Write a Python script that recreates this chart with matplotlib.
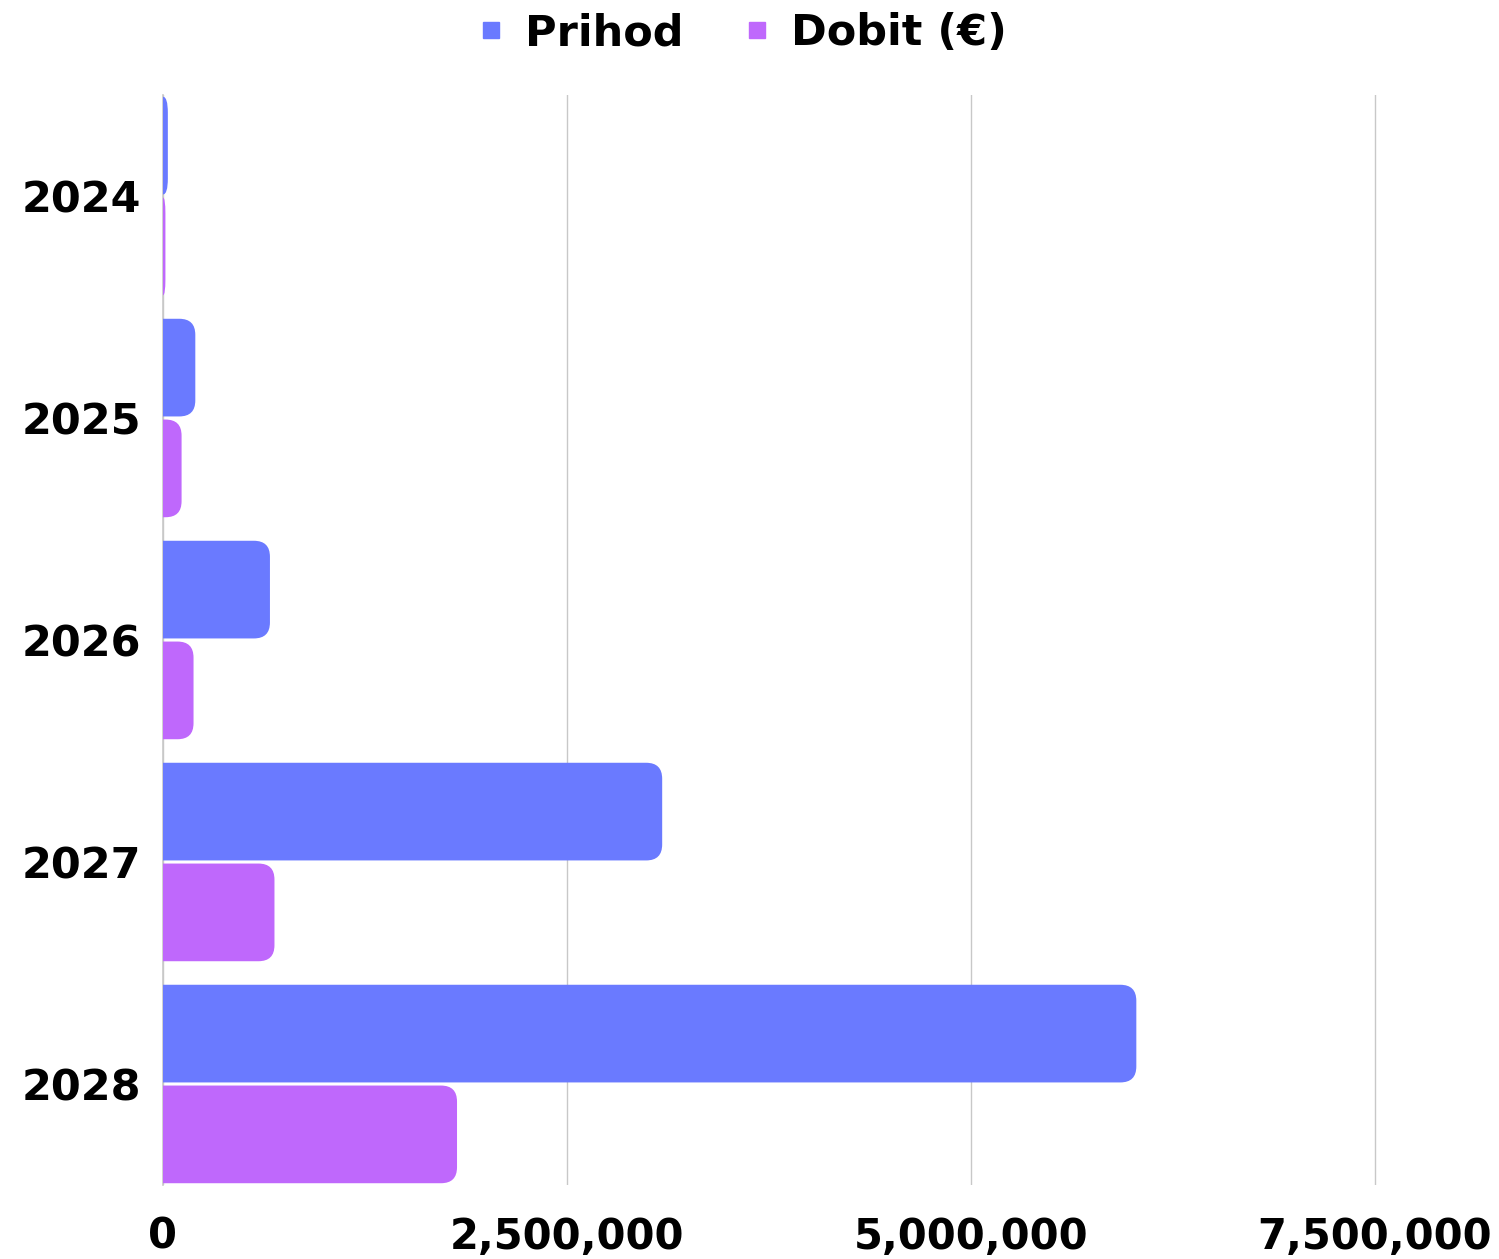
import numpy as np
import matplotlib
matplotlib.use("Agg")
import matplotlib.pyplot as plt
from matplotlib.path import Path
from matplotlib.patches import PathPatch
from matplotlib.lines import Line2D
from matplotlib.ticker import FuncFormatter

# data
years = ["2024", "2025", "2026", "2027", "2028"]
prihod = [30000, 200000, 662000, 3090000, 6025000]
dobit = [15000, 115000, 189000, 690000, 1820000]
series_names = ["Prihod", "Dobit (€)"]
colors = ["#6A7AFF", "#BF68FC"]

plt.rcParams["font.family"] = ["DejaVu Sans"]
plt.rcParams["font.weight"] = "bold"

W, H = 1499, 1259
fig = plt.figure(figsize=(W / 100, H / 100), dpi=100)
ax = fig.add_axes([163 / W, 1 - 1185 / H, 1336 / W, 1090 / H])

xmax = 8270000
ylim = (4.455, -0.455)
ax.set_xlim(0, xmax)
ax.set_ylim(*ylim)

y = np.arange(len(years))
bh = 0.44
off = 0.227

# corner radius in pixels converted to data units
r_px = 16
rx_unit = xmax / 1336
ry_unit = (ylim[0] - ylim[1]) / 1090


def rounded_right(rect, color):
    x0, y0 = rect.get_x(), rect.get_y()
    w, h = rect.get_width(), rect.get_height()
    x1, y1 = x0 + w, y0 + h
    rx = min(r_px * rx_unit, w)
    ry = min(r_px * ry_unit, h / 2)
    verts = [(x0, y0), (x1 - rx, y0), (x1, y0), (x1, y0 + ry),
             (x1, y1 - ry), (x1, y1), (x1 - rx, y1), (x0, y1), (x0, y0)]
    codes = [Path.MOVETO, Path.LINETO, Path.CURVE3, Path.CURVE3,
             Path.LINETO, Path.CURVE3, Path.CURVE3, Path.LINETO, Path.CLOSEPOLY]
    ax.add_patch(PathPatch(Path(verts, codes), facecolor=color,
                           edgecolor="none", zorder=3))


for vals, d, c in [(prihod, -off, colors[0]), (dobit, off, colors[1])]:
    bars = ax.barh(y + d, vals, height=bh, color=c)
    for b in bars:
        rounded_right(b, c)
        b.remove()

ax.set_yticks(y)
ax.set_yticklabels(years)
ax.set_xticks([0, 2500000, 5000000, 7500000])
ax.xaxis.set_major_formatter(FuncFormatter(lambda v, p: f"{int(v):,}"))

ax.tick_params(axis="y", length=0, pad=16, labelsize=31)
ax.tick_params(axis="x", length=0, pad=22, labelsize=30)
for lab in ax.get_xticklabels() + ax.get_yticklabels():
    lab.set_fontweight("bold")

ax.grid(axis="x", color="#C8C8C8", linewidth=1, zorder=0)
ax.set_axisbelow(True)
for s in ["top", "right", "bottom"]:
    ax.spines[s].set_visible(False)
ax.spines["left"].set_color("#C8C8C8")
ax.spines["left"].set_linewidth(1.2)

handles = [Line2D([], [], marker="s", linestyle="none", markersize=11,
                  markerfacecolor=c, markeredgecolor=c) for c in colors]
fig.legend(handles, series_names, loc="center", bbox_to_anchor=(0.494, 1 - 33 / H),
           ncol=2, frameon=False, prop={"size": 31, "weight": "bold"},
           handletextpad=0.4, columnspacing=1.3, handlelength=0.8)

fig.savefig("out.png", dpi=100)
